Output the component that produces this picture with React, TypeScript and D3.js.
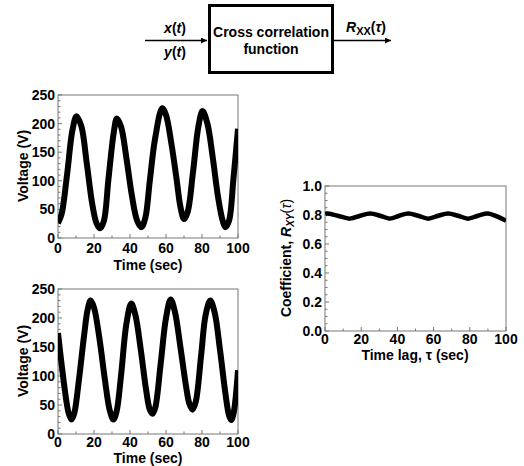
import React, { useEffect, useRef } from 'react';
import * as d3 from 'd3';

// x(t) trace
const xTime = [0, 2, 5, 8, 10.3, 13, 16, 19, 21.5, 23.4, 25.5, 28, 31, 32.7, 35, 38, 41, 44, 46.3, 48.5, 51, 54, 57.9, 60, 63, 66, 68, 70, 72, 75, 78, 80.3, 83, 86, 89, 91.5, 93, 95, 97.5, 100];
const xVolt = [26, 42, 110, 188, 213, 195, 130, 60, 25, 17, 30, 102, 185, 209, 195, 140, 75, 30, 19, 35, 100, 175, 227, 215, 165, 100, 55, 33, 45, 115, 195, 222, 200, 140, 70, 30, 19, 30, 105, 191];

// y(t) trace
const yTime = [0, 2, 4.5, 6, 7.5, 9, 11.5, 14.5, 16.5, 18.1, 20, 23, 26, 28.8, 30.8, 32.5, 35, 38, 40.7, 43, 46, 49, 51, 52.5, 54, 57, 60, 62.6, 65, 68, 71, 73, 74.7, 76.5, 79.5, 82, 84.6, 87, 90, 93, 95, 96.2, 97.5, 100];
const yVolt = [174, 120, 60, 35, 25, 35, 90, 170, 215, 230, 218, 165, 95, 40, 25, 38, 100, 190, 225, 205, 145, 75, 42, 35, 45, 120, 200, 232, 210, 150, 85, 52, 42, 55, 135, 205, 230, 210, 145, 70, 32, 24, 35, 110];

// correlation coefficient vs time lag
const lagTime = [0, 1, 7, 13.8, 19.5, 24.9, 30.5, 35.9, 41, 46, 51.5, 57, 62.5, 68, 73.5, 79, 84.5, 90, 95, 100];
const coefVal = [0.805, 0.81, 0.795, 0.775, 0.795, 0.81, 0.795, 0.775, 0.795, 0.81, 0.795, 0.775, 0.795, 0.81, 0.795, 0.775, 0.795, 0.81, 0.79, 0.76];

const timeTicks = [0, 20, 40, 60, 80, 100];
const voltTicks = [0, 50, 100, 150, 200, 250];
const coefTicks = [0, 0.2, 0.4, 0.6, 0.8, 1.0];

const FONT = '"Liberation Sans", Arial, sans-serif';

type Panel = {
  id: string;
  left: number;
  right: number;
  top: number;
  bottom: number;
  xs: number[];
  ys: number[];
  yDomain: [number, number];
  yTicks: number[];
  yMinorStep: number;
  yFormat: (v: number) => string;
  xTickBase: number;
  lineWidth: number;
};

function drawPanel(svg: d3.Selection<SVGSVGElement, unknown, null, undefined>, p: Panel) {
  const x = d3.scaleLinear().domain([0, 100]).range([p.left, p.right]);
  const y = d3.scaleLinear().domain(p.yDomain).range([p.bottom, p.top]);
  const g = svg.append('g');

  g.append('clipPath')
    .attr('id', 'clip-' + p.id)
    .append('rect')
    .attr('x', p.left)
    .attr('y', p.top - 4)
    .attr('width', p.right - p.left)
    .attr('height', p.bottom - p.top + 8);

  // minor + major ticks, pointing inside
  const xMinor = d3.range(0, 100.01, 10);
  g.selectAll('.xminor')
    .data(xMinor)
    .enter()
    .append('line')
    .attr('x1', (d) => x(d))
    .attr('x2', (d) => x(d))
    .attr('y1', p.bottom)
    .attr('y2', (d) => p.bottom - (d % 20 === 0 ? 4 : 2.5))
    .attr('stroke', '#777');

  const yMinor = d3.range(p.yDomain[0], p.yDomain[1] + 1e-6, p.yMinorStep);
  g.selectAll('.yminor')
    .data(yMinor)
    .enter()
    .append('line')
    .attr('x1', p.left)
    .attr('x2', (d) => p.left + (p.yTicks.some((t) => Math.abs(t - d) < 1e-6) ? 4 : 2.5))
    .attr('y1', (d) => y(d))
    .attr('y2', (d) => y(d))
    .attr('stroke', '#777');

  g.append('rect')
    .attr('x', p.left)
    .attr('y', p.top)
    .attr('width', p.right - p.left)
    .attr('height', p.bottom - p.top)
    .attr('fill', 'none')
    .attr('stroke', '#777')
    .attr('stroke-width', 1);

  const line = d3
    .line<number>()
    .x((d, i) => x(p.xs[i]))
    .y((d) => y(d))
    .curve(d3.curveCatmullRom);

  g.append('path')
    .attr('d', line(p.ys))
    .attr('fill', 'none')
    .attr('stroke', '#000')
    .attr('stroke-width', p.lineWidth)
    .attr('stroke-linejoin', 'round')
    .attr('clip-path', `url(#clip-${p.id})`);

  // tick labels
  g.selectAll('.xlab')
    .data(timeTicks)
    .enter()
    .append('text')
    .attr('x', (d) => x(d))
    .attr('y', p.xTickBase)
    .attr('text-anchor', 'middle')
    .attr('font-family', FONT)
    .attr('font-weight', 'bold')
    .attr('font-size', 14)
    .text((d) => d);

  g.selectAll('.ylab')
    .data(p.yTicks)
    .enter()
    .append('text')
    .attr('x', p.left - 3)
    .attr('y', (d) => y(d))
    .attr('dy', '0.36em')
    .attr('text-anchor', 'end')
    .attr('font-family', FONT)
    .attr('font-weight', 'bold')
    .attr('font-size', 14)
    .text((d) => p.yFormat(d));

  return g;
}

export default function App() {
  const ref = useRef<SVGSVGElement>(null);

  useEffect(() => {
    const svg = d3.select(ref.current as SVGSVGElement);
    svg.selectAll('*').remove();

    const defs = svg.append('defs');
    defs
      .append('marker')
      .attr('id', 'arrow')
      .attr('viewBox', '0 0 10 10')
      .attr('refX', 10)
      .attr('refY', 5)
      .attr('markerWidth', 4)
      .attr('markerHeight', 4)
      .attr('orient', 'auto')
      .append('path')
      .attr('d', 'M0,0 L10,5 L0,10 z')
      .attr('fill', '#000');

    // block diagram
    const diag = svg.append('g').attr('font-family', FONT).attr('font-weight', 'bold');
    diag.append('rect')
      .attr('x', 209.5)
      .attr('y', 5.5)
      .attr('width', 123)
      .attr('height', 67)
      .attr('fill', 'none')
      .attr('stroke', '#000')
      .attr('stroke-width', 3);
    diag.append('line')
      .attr('x1', 145).attr('x2', 207).attr('y1', 40.5).attr('y2', 40.5)
      .attr('stroke', '#000').attr('stroke-width', 1.5).attr('marker-end', 'url(#arrow)');
    diag.append('line')
      .attr('x1', 334).attr('x2', 391).attr('y1', 40.5).attr('y2', 40.5)
      .attr('stroke', '#000').attr('stroke-width', 1.5).attr('marker-end', 'url(#arrow)');
    diag.append('text').attr('x', 271).attr('y', 37).attr('text-anchor', 'middle').attr('font-size', 14).text('Cross correlation');
    diag.append('text').attr('x', 271).attr('y', 54).attr('text-anchor', 'middle').attr('font-size', 14).text('function');

    const xt = diag.append('text').attr('x', 175).attr('y', 33).attr('text-anchor', 'middle').attr('font-size', 14);
    xt.append('tspan').attr('font-style', 'italic').text('x');
    xt.append('tspan').text('(');
    xt.append('tspan').attr('font-style', 'italic').text('t');
    xt.append('tspan').text(')');
    const yt = diag.append('text').attr('x', 175).attr('y', 57).attr('text-anchor', 'middle').attr('font-size', 14);
    yt.append('tspan').attr('font-style', 'italic').text('y');
    yt.append('tspan').text('(');
    yt.append('tspan').attr('font-style', 'italic').text('t');
    yt.append('tspan').text(')');
    const rt = diag.append('text').attr('x', 366).attr('y', 32).attr('text-anchor', 'middle').attr('font-size', 14);
    rt.append('tspan').attr('font-style', 'italic').text('R');
    rt.append('tspan').attr('font-size', 11).attr('dy', 3).text('XX');
    rt.append('tspan').attr('dy', -3).text('(');
    rt.append('tspan').attr('font-style', 'italic').text('τ');
    rt.append('tspan').text(')');

    const voltFmt = (v: number) => String(v);
    drawPanel(svg, {
      id: 'top', left: 58, right: 238, top: 95, bottom: 238,
      xs: xTime, ys: xVolt, yDomain: [0, 250], yTicks: voltTicks, yMinorStep: 10,
      yFormat: voltFmt, xTickBase: 253, lineWidth: 6,
    });
    drawPanel(svg, {
      id: 'bot', left: 58, right: 238, top: 289, bottom: 434,
      xs: yTime, ys: yVolt, yDomain: [0, 250], yTicks: voltTicks, yMinorStep: 10,
      yFormat: voltFmt, xTickBase: 447, lineWidth: 6,
    });
    drawPanel(svg, {
      id: 'coef', left: 325, right: 506, top: 186, bottom: 331,
      xs: lagTime, ys: coefVal, yDomain: [0, 1], yTicks: coefTicks, yMinorStep: 0.05,
      yFormat: (v) => v.toFixed(1), xTickBase: 344, lineWidth: 4.5,
    });

    // axis titles
    const titles = svg.append('g').attr('font-family', FONT).attr('font-weight', 'bold').attr('font-size', 14);
    titles.append('text').attr('x', 148).attr('y', 270).attr('text-anchor', 'middle').text('Time (sec)');
    titles.append('text').attr('x', 148).attr('y', 463).attr('text-anchor', 'middle').text('Time (sec)');
    titles.append('text').attr('x', 415).attr('y', 360).attr('text-anchor', 'middle').text('Time lag, τ (sec)');
    titles.append('text')
      .attr('transform', 'translate(28,166) rotate(-90)')
      .attr('text-anchor', 'middle')
      .text('Voltage (V)');
    titles.append('text')
      .attr('transform', 'translate(28,361) rotate(-90)')
      .attr('text-anchor', 'middle')
      .text('Voltage (V)');
    const ct = titles.append('text')
      .attr('transform', 'translate(291,258) rotate(-90)')
      .attr('text-anchor', 'middle');
    ct.append('tspan').text('Coefficient, ');
    ct.append('tspan').attr('font-style', 'italic').text('R');
    ct.append('tspan').attr('font-size', 10).attr('font-style', 'italic').attr('dy', 3).text('XY');
    ct.append('tspan').attr('dy', -3).attr('font-weight', 'normal').text('(');
    ct.append('tspan').attr('font-style', 'italic').attr('font-weight', 'normal').text('τ');
    ct.append('tspan').attr('font-weight', 'normal').text(')');
  }, []);

  return (
    <svg
      ref={ref}
      width={524}
      height={466}
      style={{ position: 'absolute', left: 0, top: 0, background: '#fff' }}
    />
  );
}
